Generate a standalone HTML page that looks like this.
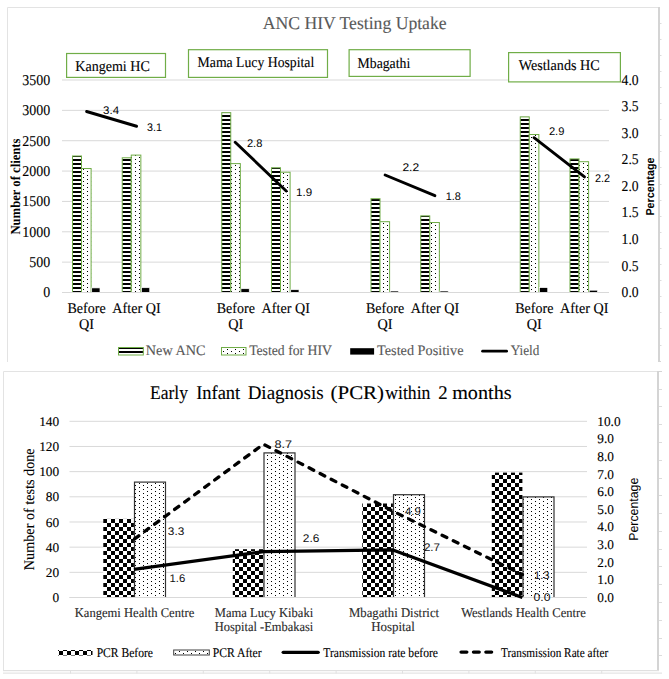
<!DOCTYPE html>
<html><head><meta charset="utf-8"><style>
html,body{margin:0;padding:0;background:#fff;}
body{width:669px;height:679px;overflow:hidden;}
svg{display:block;text-rendering:geometricPrecision;}
text{font-family:"Liberation Serif",serif;}
</style></head><body>
<svg width="669" height="679" viewBox="0 0 669 679">
<rect width="669" height="679" fill="#fff"/>
<defs>
<pattern id="stripes" patternUnits="userSpaceOnUse" x="0" y="3" width="8" height="4">
 <rect x="0" y="0" width="8" height="2" fill="#000"/><rect x="0" y="2" width="8" height="2" fill="#fff"/></pattern>
<pattern id="dots1" patternUnits="userSpaceOnUse" x="3" y="1" width="8" height="4">
 <rect width="8" height="4" fill="#fff"/><rect x="0" y="0" width="1" height="1" fill="#000"/><rect x="4" y="2" width="1" height="1" fill="#000"/></pattern>
<pattern id="dots2" patternUnits="userSpaceOnUse" x="3" y="3" width="8" height="4">
 <rect width="8" height="4" fill="#fff"/><rect x="0" y="0" width="1" height="1" fill="#000"/><rect x="4" y="2" width="1" height="1" fill="#000"/></pattern>
<pattern id="checker" patternUnits="userSpaceOnUse" x="3" y="3" width="8" height="8">
 <rect width="8" height="8" fill="#fff"/><rect x="0" y="0" width="4" height="4" fill="#000"/><rect x="4" y="4" width="4" height="4" fill="#000"/></pattern>
</defs>
<path d="M7.5 362V7.5H658" stroke="#e3e3e3" stroke-width="1" fill="none"/>
<rect x="658" y="7" width="2" height="355" fill="#d4d4d4"/>
<rect x="660" y="23" width="1.5" height="1" fill="#dcdcdc"/>
<rect x="660" y="39" width="1.5" height="1" fill="#dcdcdc"/>
<rect x="660" y="55" width="1.5" height="1" fill="#dcdcdc"/>
<rect x="660" y="71" width="1.5" height="1" fill="#dcdcdc"/>
<rect x="660" y="87" width="1.5" height="1" fill="#dcdcdc"/>
<rect x="660" y="103" width="1.5" height="1" fill="#dcdcdc"/>
<rect x="660" y="119" width="1.5" height="1" fill="#dcdcdc"/>
<rect x="660" y="135" width="1.5" height="1" fill="#dcdcdc"/>
<rect x="660" y="151" width="1.5" height="1" fill="#dcdcdc"/>
<rect x="660" y="167" width="1.5" height="1" fill="#dcdcdc"/>
<rect x="660" y="184" width="1.5" height="1" fill="#dcdcdc"/>
<rect x="660" y="200" width="1.5" height="1" fill="#dcdcdc"/>
<rect x="660" y="216" width="1.5" height="1" fill="#dcdcdc"/>
<rect x="660" y="232" width="1.5" height="1" fill="#dcdcdc"/>
<rect x="660" y="248" width="1.5" height="1" fill="#dcdcdc"/>
<rect x="660" y="264" width="1.5" height="1" fill="#dcdcdc"/>
<rect x="660" y="280" width="1.5" height="1" fill="#dcdcdc"/>
<rect x="660" y="296" width="1.5" height="1" fill="#dcdcdc"/>
<rect x="660" y="312" width="1.5" height="1" fill="#dcdcdc"/>
<rect x="660" y="328" width="1.5" height="1" fill="#dcdcdc"/>
<rect x="660" y="345" width="1.5" height="1" fill="#dcdcdc"/>
<rect x="658" y="361" width="3" height="1" fill="#d4d4d4"/>
<text x="262.82" y="28.70" style="font-family:&quot;Liberation Serif&quot;,serif;font-size:18.1px;font-weight:normal" fill="#595959" stroke="#595959" stroke-width="0.12" textLength="183.79" lengthAdjust="spacingAndGlyphs">ANC HIV Testing Uptake</text>
<line x1="62" x2="609" y1="292.50" y2="292.50" stroke="#d9d9d9" stroke-width="1"/>
<line x1="62" x2="609" y1="262.14" y2="262.14" stroke="#d9d9d9" stroke-width="1"/>
<line x1="62" x2="609" y1="231.79" y2="231.79" stroke="#d9d9d9" stroke-width="1"/>
<line x1="62" x2="609" y1="201.43" y2="201.43" stroke="#d9d9d9" stroke-width="1"/>
<line x1="62" x2="609" y1="171.07" y2="171.07" stroke="#d9d9d9" stroke-width="1"/>
<line x1="62" x2="609" y1="140.71" y2="140.71" stroke="#d9d9d9" stroke-width="1"/>
<line x1="62" x2="609" y1="110.36" y2="110.36" stroke="#d9d9d9" stroke-width="1"/>
<line x1="62" x2="609" y1="80.00" y2="80.00" stroke="#d9d9d9" stroke-width="1"/>
<clipPath id="c1"><rect x="0" y="0" width="669" height="292"/></clipPath>
<g clip-path="url(#c1)">
<rect x="72.50" y="156.00" width="9" height="139.00" fill="url(#stripes)" stroke="#70ad47" stroke-width="1"/>
<rect x="81.50" y="168.50" width="9.6" height="126.50" fill="url(#dots1)" stroke="#70ad47" stroke-width="1"/>
<rect x="91.70" y="287.90" width="8.3" height="6.60" fill="#000" stroke="#fff" stroke-width="0.7"/>
<rect x="122.25" y="157.80" width="9" height="137.20" fill="url(#stripes)" stroke="#70ad47" stroke-width="1"/>
<rect x="131.25" y="155.10" width="9.6" height="139.90" fill="url(#dots1)" stroke="#70ad47" stroke-width="1"/>
<rect x="141.45" y="287.70" width="8.3" height="6.80" fill="#000" stroke="#fff" stroke-width="0.7"/>
<rect x="221.75" y="112.70" width="9" height="182.30" fill="url(#stripes)" stroke="#70ad47" stroke-width="1"/>
<rect x="230.75" y="163.60" width="9.6" height="131.40" fill="url(#dots1)" stroke="#70ad47" stroke-width="1"/>
<rect x="240.95" y="288.70" width="8.3" height="5.80" fill="#000" stroke="#fff" stroke-width="0.7"/>
<rect x="271.50" y="167.80" width="9" height="127.20" fill="url(#stripes)" stroke="#70ad47" stroke-width="1"/>
<rect x="280.50" y="172.20" width="9.6" height="122.80" fill="url(#dots1)" stroke="#70ad47" stroke-width="1"/>
<rect x="290.70" y="289.70" width="8.3" height="4.80" fill="#000" stroke="#fff" stroke-width="0.7"/>
<rect x="371.00" y="198.70" width="9" height="96.30" fill="url(#stripes)" stroke="#70ad47" stroke-width="1"/>
<rect x="380.00" y="221.70" width="9.6" height="73.30" fill="url(#dots1)" stroke="#70ad47" stroke-width="1"/>
<rect x="390.20" y="291.00" width="8.3" height="3.50" fill="#000" stroke="#fff" stroke-width="0.7"/>
<rect x="420.75" y="215.90" width="9" height="79.10" fill="url(#stripes)" stroke="#70ad47" stroke-width="1"/>
<rect x="429.75" y="222.50" width="9.6" height="72.50" fill="url(#dots1)" stroke="#70ad47" stroke-width="1"/>
<rect x="439.95" y="291.00" width="8.3" height="3.50" fill="#000" stroke="#fff" stroke-width="0.7"/>
<rect x="520.25" y="116.90" width="9" height="178.10" fill="url(#stripes)" stroke="#70ad47" stroke-width="1"/>
<rect x="529.25" y="134.50" width="9.6" height="160.50" fill="url(#dots1)" stroke="#70ad47" stroke-width="1"/>
<rect x="539.45" y="287.60" width="8.3" height="6.90" fill="#000" stroke="#fff" stroke-width="0.7"/>
<rect x="570.00" y="158.90" width="9" height="136.10" fill="url(#stripes)" stroke="#70ad47" stroke-width="1"/>
<rect x="579.00" y="161.70" width="9.6" height="133.30" fill="url(#dots1)" stroke="#70ad47" stroke-width="1"/>
<rect x="589.20" y="290.20" width="8.3" height="4.30" fill="#000" stroke="#fff" stroke-width="0.7"/>
</g>
<line x1="62" x2="609" y1="292.50" y2="292.50" stroke="#d9d9d9" stroke-width="1"/>
<line x1="86.6" y1="111.5" x2="136.6" y2="126.25" stroke="#000" stroke-width="2.9" stroke-linecap="round"/>
<line x1="235.2" y1="142.2" x2="286.2" y2="191.0" stroke="#000" stroke-width="2.9" stroke-linecap="round"/>
<line x1="385.1" y1="175.0" x2="434.9" y2="195.7" stroke="#000" stroke-width="2.9" stroke-linecap="round"/>
<line x1="534.0" y1="137.7" x2="584.5" y2="176.85" stroke="#000" stroke-width="2.9" stroke-linecap="round"/>
<text x="103.14" y="113.90" style="font-family:&quot;Liberation Sans&quot;,sans;font-size:11.1px;font-weight:normal" fill="#000" textLength="16.01" lengthAdjust="spacingAndGlyphs">3.4</text>
<text x="146.97" y="130.90" style="font-family:&quot;Liberation Sans&quot;,sans;font-size:11.1px;font-weight:normal" fill="#000" textLength="14.86" lengthAdjust="spacingAndGlyphs">3.1</text>
<text x="246.95" y="147.00" style="font-family:&quot;Liberation Sans&quot;,sans;font-size:11.1px;font-weight:normal" fill="#000" textLength="15.40" lengthAdjust="spacingAndGlyphs">2.8</text>
<text x="296.03" y="195.60" style="font-family:&quot;Liberation Sans&quot;,sans;font-size:11.1px;font-weight:normal" fill="#000" textLength="16.09" lengthAdjust="spacingAndGlyphs">1.9</text>
<text x="402.40" y="171.00" style="font-family:&quot;Liberation Sans&quot;,sans;font-size:11.1px;font-weight:normal" fill="#000" textLength="16.70" lengthAdjust="spacingAndGlyphs">2.2</text>
<text x="445.78" y="200.00" style="font-family:&quot;Liberation Sans&quot;,sans;font-size:11.1px;font-weight:normal" fill="#000" textLength="15.16" lengthAdjust="spacingAndGlyphs">1.8</text>
<text x="548.94" y="135.00" style="font-family:&quot;Liberation Sans&quot;,sans;font-size:11.1px;font-weight:normal" fill="#000" textLength="15.46" lengthAdjust="spacingAndGlyphs">2.9</text>
<text x="594.96" y="181.70" style="font-family:&quot;Liberation Sans&quot;,sans;font-size:11.1px;font-weight:normal" fill="#000" textLength="15.09" lengthAdjust="spacingAndGlyphs">2.2</text>
<rect x="66.60" y="53.50" width="98.90" height="23.90" fill="#fff" stroke="#70ad47" stroke-width="1.2"/>
<text x="75.28" y="70.80" style="font-family:&quot;Liberation Serif&quot;,serif;font-size:14.8px;font-weight:normal" fill="#000" stroke="#000" stroke-width="0.12" textLength="74.49" lengthAdjust="spacingAndGlyphs">Kangemi HC</text>
<rect x="188.50" y="49.70" width="139.00" height="27.70" fill="#fff" stroke="#70ad47" stroke-width="1.2"/>
<text x="197.59" y="66.70" style="font-family:&quot;Liberation Serif&quot;,serif;font-size:14.8px;font-weight:normal" fill="#000" stroke="#000" stroke-width="0.12" textLength="116.66" lengthAdjust="spacingAndGlyphs">Mama Lucy Hospital</text>
<rect x="349.10" y="49.70" width="121.00" height="26.70" fill="#fff" stroke="#70ad47" stroke-width="1.2"/>
<text x="357.59" y="67.80" style="font-family:&quot;Liberation Serif&quot;,serif;font-size:14.8px;font-weight:normal" fill="#000" stroke="#000" stroke-width="0.12" textLength="52.65" lengthAdjust="spacingAndGlyphs">Mbagathi</text>
<rect x="508.60" y="52.60" width="111.80" height="29.30" fill="#fff" stroke="#70ad47" stroke-width="1.2"/>
<text x="518.70" y="69.80" style="font-family:&quot;Liberation Serif&quot;,serif;font-size:14.8px;font-weight:normal" fill="#000" stroke="#000" stroke-width="0.12" textLength="80.97" lengthAdjust="spacingAndGlyphs">Westlands HC</text>
<text x="43.17" y="297.40" style="font-family:&quot;Liberation Serif&quot;,serif;font-size:15px;font-weight:normal" fill="#000" stroke="#000" stroke-width="0.12" textLength="6.99" lengthAdjust="spacingAndGlyphs">0</text>
<text x="29.19" y="267.04" style="font-family:&quot;Liberation Serif&quot;,serif;font-size:15px;font-weight:normal" fill="#000" stroke="#000" stroke-width="0.12" textLength="20.97" lengthAdjust="spacingAndGlyphs">500</text>
<text x="22.20" y="236.69" style="font-family:&quot;Liberation Serif&quot;,serif;font-size:15px;font-weight:normal" fill="#000" stroke="#000" stroke-width="0.12" textLength="27.96" lengthAdjust="spacingAndGlyphs">1000</text>
<text x="22.20" y="206.33" style="font-family:&quot;Liberation Serif&quot;,serif;font-size:15px;font-weight:normal" fill="#000" stroke="#000" stroke-width="0.12" textLength="27.96" lengthAdjust="spacingAndGlyphs">1500</text>
<text x="22.20" y="175.97" style="font-family:&quot;Liberation Serif&quot;,serif;font-size:15px;font-weight:normal" fill="#000" stroke="#000" stroke-width="0.12" textLength="27.96" lengthAdjust="spacingAndGlyphs">2000</text>
<text x="22.20" y="145.61" style="font-family:&quot;Liberation Serif&quot;,serif;font-size:15px;font-weight:normal" fill="#000" stroke="#000" stroke-width="0.12" textLength="27.96" lengthAdjust="spacingAndGlyphs">2500</text>
<text x="22.20" y="115.26" style="font-family:&quot;Liberation Serif&quot;,serif;font-size:15px;font-weight:normal" fill="#000" stroke="#000" stroke-width="0.12" textLength="27.96" lengthAdjust="spacingAndGlyphs">3000</text>
<text x="22.20" y="84.90" style="font-family:&quot;Liberation Serif&quot;,serif;font-size:15px;font-weight:normal" fill="#000" stroke="#000" stroke-width="0.12" textLength="27.96" lengthAdjust="spacingAndGlyphs">3500</text>
<text x="621.59" y="297.10" style="font-family:&quot;Liberation Serif&quot;,serif;font-size:15px;font-weight:normal" fill="#000" stroke="#000" stroke-width="0.12" textLength="17.06" lengthAdjust="spacingAndGlyphs">0.0</text>
<text x="621.59" y="270.54" style="font-family:&quot;Liberation Serif&quot;,serif;font-size:15px;font-weight:normal" fill="#000" stroke="#000" stroke-width="0.12" textLength="17.06" lengthAdjust="spacingAndGlyphs">0.5</text>
<text x="621.59" y="243.97" style="font-family:&quot;Liberation Serif&quot;,serif;font-size:15px;font-weight:normal" fill="#000" stroke="#000" stroke-width="0.12" textLength="17.06" lengthAdjust="spacingAndGlyphs">1.0</text>
<text x="621.59" y="217.41" style="font-family:&quot;Liberation Serif&quot;,serif;font-size:15px;font-weight:normal" fill="#000" stroke="#000" stroke-width="0.12" textLength="17.06" lengthAdjust="spacingAndGlyphs">1.5</text>
<text x="621.59" y="190.85" style="font-family:&quot;Liberation Serif&quot;,serif;font-size:15px;font-weight:normal" fill="#000" stroke="#000" stroke-width="0.12" textLength="17.06" lengthAdjust="spacingAndGlyphs">2.0</text>
<text x="621.59" y="164.29" style="font-family:&quot;Liberation Serif&quot;,serif;font-size:15px;font-weight:normal" fill="#000" stroke="#000" stroke-width="0.12" textLength="17.06" lengthAdjust="spacingAndGlyphs">2.5</text>
<text x="621.59" y="137.72" style="font-family:&quot;Liberation Serif&quot;,serif;font-size:15px;font-weight:normal" fill="#000" stroke="#000" stroke-width="0.12" textLength="17.06" lengthAdjust="spacingAndGlyphs">3.0</text>
<text x="621.59" y="111.16" style="font-family:&quot;Liberation Serif&quot;,serif;font-size:15px;font-weight:normal" fill="#000" stroke="#000" stroke-width="0.12" textLength="17.06" lengthAdjust="spacingAndGlyphs">3.5</text>
<text x="621.59" y="84.60" style="font-family:&quot;Liberation Serif&quot;,serif;font-size:15px;font-weight:normal" fill="#000" stroke="#000" stroke-width="0.12" textLength="17.06" lengthAdjust="spacingAndGlyphs">4.0</text>
<text x="67.53" y="312.80" style="font-family:&quot;Liberation Serif&quot;,serif;font-size:14.8px;font-weight:normal" fill="#000" stroke="#000" stroke-width="0.12" textLength="38.12" lengthAdjust="spacingAndGlyphs">Before</text>
<text x="78.98" y="328.80" style="font-family:&quot;Liberation Serif&quot;,serif;font-size:14.8px;font-weight:normal" fill="#000" stroke="#000" stroke-width="0.12" textLength="15.07" lengthAdjust="spacingAndGlyphs">QI</text>
<text x="112.36" y="312.80" style="font-family:&quot;Liberation Serif&quot;,serif;font-size:14.8px;font-weight:normal" fill="#000" stroke="#000" stroke-width="0.12" textLength="48.24" lengthAdjust="spacingAndGlyphs">After QI</text>
<text x="216.78" y="312.80" style="font-family:&quot;Liberation Serif&quot;,serif;font-size:14.8px;font-weight:normal" fill="#000" stroke="#000" stroke-width="0.12" textLength="38.12" lengthAdjust="spacingAndGlyphs">Before</text>
<text x="228.23" y="328.80" style="font-family:&quot;Liberation Serif&quot;,serif;font-size:14.8px;font-weight:normal" fill="#000" stroke="#000" stroke-width="0.12" textLength="15.07" lengthAdjust="spacingAndGlyphs">QI</text>
<text x="261.61" y="312.80" style="font-family:&quot;Liberation Serif&quot;,serif;font-size:14.8px;font-weight:normal" fill="#000" stroke="#000" stroke-width="0.12" textLength="48.24" lengthAdjust="spacingAndGlyphs">After QI</text>
<text x="366.03" y="312.80" style="font-family:&quot;Liberation Serif&quot;,serif;font-size:14.8px;font-weight:normal" fill="#000" stroke="#000" stroke-width="0.12" textLength="38.12" lengthAdjust="spacingAndGlyphs">Before</text>
<text x="377.48" y="328.80" style="font-family:&quot;Liberation Serif&quot;,serif;font-size:14.8px;font-weight:normal" fill="#000" stroke="#000" stroke-width="0.12" textLength="15.07" lengthAdjust="spacingAndGlyphs">QI</text>
<text x="410.86" y="312.80" style="font-family:&quot;Liberation Serif&quot;,serif;font-size:14.8px;font-weight:normal" fill="#000" stroke="#000" stroke-width="0.12" textLength="48.24" lengthAdjust="spacingAndGlyphs">After QI</text>
<text x="515.28" y="312.80" style="font-family:&quot;Liberation Serif&quot;,serif;font-size:14.8px;font-weight:normal" fill="#000" stroke="#000" stroke-width="0.12" textLength="38.12" lengthAdjust="spacingAndGlyphs">Before</text>
<text x="526.73" y="328.80" style="font-family:&quot;Liberation Serif&quot;,serif;font-size:14.8px;font-weight:normal" fill="#000" stroke="#000" stroke-width="0.12" textLength="15.07" lengthAdjust="spacingAndGlyphs">QI</text>
<text x="560.11" y="312.80" style="font-family:&quot;Liberation Serif&quot;,serif;font-size:14.8px;font-weight:normal" fill="#000" stroke="#000" stroke-width="0.12" textLength="48.24" lengthAdjust="spacingAndGlyphs">After QI</text>
<text transform="rotate(-90)" x="-234.55" y="19.90" style="font-family:&quot;Liberation Serif&quot;,serif;font-size:13.7px;font-weight:bold" fill="#000" textLength="96.03" lengthAdjust="spacingAndGlyphs">Number of clients</text>
<text transform="rotate(-90)" x="-215.60" y="654.10" style="font-family:&quot;Liberation Sans&quot;,sans;font-size:11.5px;font-weight:bold" fill="#000" textLength="58.10" lengthAdjust="spacingAndGlyphs">Percentage</text>
<rect x="118.5" y="347.5" width="24.8" height="7.5" fill="url(#stripes)" stroke="#70ad47" stroke-width="1"/>
<text x="145.87" y="355.45" style="font-family:&quot;Liberation Serif&quot;,serif;font-size:14.4px;font-weight:normal" fill="#595959" stroke="#595959" stroke-width="0.12" textLength="59.57" lengthAdjust="spacingAndGlyphs">New ANC</text>
<rect x="221.5" y="347.5" width="24.5" height="7.5" fill="url(#dots1)" stroke="#70ad47" stroke-width="1"/>
<text x="249.13" y="355.45" style="font-family:&quot;Liberation Serif&quot;,serif;font-size:14.4px;font-weight:normal" fill="#595959" stroke="#595959" stroke-width="0.12" textLength="82.77" lengthAdjust="spacingAndGlyphs">Tested for HIV</text>
<rect x="350.2" y="348.2" width="23.9" height="6.4" fill="#000"/>
<text x="377.12" y="355.45" style="font-family:&quot;Liberation Serif&quot;,serif;font-size:14.4px;font-weight:normal" fill="#595959" stroke="#595959" stroke-width="0.12" textLength="86.36" lengthAdjust="spacingAndGlyphs">Tested Positive</text>
<line x1="482.6" x2="506.6" y1="351.2" y2="351.2" stroke="#000" stroke-width="2.8" stroke-linecap="round"/>
<text x="510.67" y="355.45" style="font-family:&quot;Liberation Serif&quot;,serif;font-size:14.4px;font-weight:normal" fill="#595959" stroke="#595959" stroke-width="0.12" textLength="28.68" lengthAdjust="spacingAndGlyphs">Yield</text>
<path d="M3.5 670.5V371.5H657" stroke="#e3e3e3" stroke-width="1" fill="none"/>
<rect x="657" y="371" width="2" height="300" fill="#d4d4d4"/>
<rect x="3" y="670" width="656" height="1.2" fill="#e0e0e0"/>
<rect x="3" y="672.6" width="659" height="1" fill="#dedede"/>
<rect x="657" y="371" width="5" height="1" fill="#d4d4d4"/>
<rect x="70.0" y="670" width="1" height="3.5" fill="#e0e0e0"/>
<rect x="136.4" y="670" width="1" height="3.5" fill="#e0e0e0"/>
<rect x="202.8" y="670" width="1" height="3.5" fill="#e0e0e0"/>
<rect x="269.2" y="670" width="1" height="3.5" fill="#e0e0e0"/>
<rect x="335.6" y="670" width="1" height="3.5" fill="#e0e0e0"/>
<rect x="402.0" y="670" width="1" height="3.5" fill="#e0e0e0"/>
<rect x="468.4" y="670" width="1" height="3.5" fill="#e0e0e0"/>
<rect x="534.8" y="670" width="1" height="3.5" fill="#e0e0e0"/>
<rect x="601.2" y="670" width="1" height="3.5" fill="#e0e0e0"/>
<rect x="659" y="389" width="3" height="1" fill="#dcdcdc"/>
<rect x="659" y="406" width="3" height="1" fill="#dcdcdc"/>
<rect x="659" y="424" width="3" height="1" fill="#dcdcdc"/>
<rect x="659" y="442" width="3" height="1" fill="#dcdcdc"/>
<rect x="659" y="460" width="3" height="1" fill="#dcdcdc"/>
<rect x="659" y="478" width="3" height="1" fill="#dcdcdc"/>
<rect x="659" y="495" width="3" height="1" fill="#dcdcdc"/>
<rect x="659" y="513" width="3" height="1" fill="#dcdcdc"/>
<rect x="659" y="531" width="3" height="1" fill="#dcdcdc"/>
<rect x="659" y="549" width="3" height="1" fill="#dcdcdc"/>
<rect x="659" y="566" width="3" height="1" fill="#dcdcdc"/>
<rect x="659" y="584" width="3" height="1" fill="#dcdcdc"/>
<rect x="659" y="602" width="3" height="1" fill="#dcdcdc"/>
<rect x="659" y="620" width="3" height="1" fill="#dcdcdc"/>
<rect x="659" y="638" width="3" height="1" fill="#dcdcdc"/>
<rect x="659" y="655" width="3" height="1" fill="#dcdcdc"/>
<text x="149.97" y="398.70" style="font-family:&quot;Liberation Serif&quot;,serif;font-size:19.4px;font-weight:normal" fill="#000" stroke="#000" stroke-width="0.12" textLength="37.92" lengthAdjust="spacingAndGlyphs">Early</text>
<text x="196.15" y="398.70" style="font-family:&quot;Liberation Serif&quot;,serif;font-size:19.4px;font-weight:normal" fill="#000" stroke="#000" stroke-width="0.12" textLength="44.09" lengthAdjust="spacingAndGlyphs">Infant</text>
<text x="247.63" y="398.70" style="font-family:&quot;Liberation Serif&quot;,serif;font-size:19.4px;font-weight:normal" fill="#000" stroke="#000" stroke-width="0.12" textLength="76.03" lengthAdjust="spacingAndGlyphs">Diagnosis</text>
<text x="330.56" y="398.70" style="font-family:&quot;Liberation Serif&quot;,serif;font-size:19.4px;font-weight:normal" fill="#000" stroke="#000" stroke-width="0.12" textLength="53.51" lengthAdjust="spacingAndGlyphs">(PCR)</text>
<text x="385.30" y="398.70" style="font-family:&quot;Liberation Serif&quot;,serif;font-size:19.4px;font-weight:normal" fill="#000" stroke="#000" stroke-width="0.12" textLength="45.08" lengthAdjust="spacingAndGlyphs">within</text>
<text x="438.26" y="398.70" style="font-family:&quot;Liberation Serif&quot;,serif;font-size:19.4px;font-weight:normal" fill="#000" stroke="#000" stroke-width="0.12" textLength="9.38" lengthAdjust="spacingAndGlyphs">2</text>
<text x="452.20" y="398.70" style="font-family:&quot;Liberation Serif&quot;,serif;font-size:19.4px;font-weight:normal" fill="#000" stroke="#000" stroke-width="0.12" textLength="59.40" lengthAdjust="spacingAndGlyphs">months</text>
<line x1="69.5" x2="587" y1="597.50" y2="597.50" stroke="#d9d9d9" stroke-width="1"/>
<line x1="69.5" x2="587" y1="572.33" y2="572.33" stroke="#d9d9d9" stroke-width="1"/>
<line x1="69.5" x2="587" y1="547.16" y2="547.16" stroke="#d9d9d9" stroke-width="1"/>
<line x1="69.5" x2="587" y1="521.99" y2="521.99" stroke="#d9d9d9" stroke-width="1"/>
<line x1="69.5" x2="587" y1="496.81" y2="496.81" stroke="#d9d9d9" stroke-width="1"/>
<line x1="69.5" x2="587" y1="471.64" y2="471.64" stroke="#d9d9d9" stroke-width="1"/>
<line x1="69.5" x2="587" y1="446.47" y2="446.47" stroke="#d9d9d9" stroke-width="1"/>
<line x1="69.5" x2="587" y1="421.30" y2="421.30" stroke="#d9d9d9" stroke-width="1"/>
<clipPath id="c2"><rect x="0" y="0" width="669" height="597"/></clipPath>
<g clip-path="url(#c2)">
<rect x="103.30" y="518.90" width="30.6" height="80.60" fill="url(#checker)"/>
<rect x="134.50" y="482.10" width="31.0" height="117.80" fill="url(#dots2)" stroke="#333" stroke-width="1.2"/>
<rect x="232.80" y="549.20" width="30.6" height="50.30" fill="url(#checker)"/>
<rect x="264.00" y="452.90" width="31.0" height="147.00" fill="url(#dots2)" stroke="#333" stroke-width="1.2"/>
<rect x="362.30" y="503.50" width="30.6" height="96.00" fill="url(#checker)"/>
<rect x="393.50" y="494.70" width="31.0" height="105.20" fill="url(#dots2)" stroke="#333" stroke-width="1.2"/>
<rect x="491.80" y="472.60" width="30.6" height="126.90" fill="url(#checker)"/>
<rect x="523.00" y="496.90" width="31.0" height="103.00" fill="url(#dots2)" stroke="#333" stroke-width="1.2"/>
</g>
<line x1="69.5" x2="587" y1="597.50" y2="597.50" stroke="#d9d9d9" stroke-width="1"/>
<polyline fill="none" stroke="#000" stroke-width="3.3" stroke-linejoin="round" points="133.90,569.31 263.40,551.69 392.90,549.93 522.40,597.50"/>
<polyline fill="none" stroke="#000" stroke-width="3.3" stroke-dasharray="5.2 7.23" stroke-dashoffset="-0.8" stroke-linecap="round" stroke-linejoin="round" points="133.90,539.35 263.40,444.21 392.90,511.16 522.40,574.59"/>
<text x="167.83" y="534.90" style="font-family:&quot;Liberation Sans&quot;,sans;font-size:11.1px;font-weight:normal" fill="#111" textLength="16.40" lengthAdjust="spacingAndGlyphs">3.3</text>
<text x="169.45" y="581.80" style="font-family:&quot;Liberation Sans&quot;,sans;font-size:11.1px;font-weight:normal" fill="#111" textLength="15.76" lengthAdjust="spacingAndGlyphs">1.6</text>
<text x="274.53" y="448.00" style="font-family:&quot;Liberation Sans&quot;,sans;font-size:11.1px;font-weight:normal" fill="#111" textLength="17.61" lengthAdjust="spacingAndGlyphs">8.7</text>
<text x="302.81" y="542.10" style="font-family:&quot;Liberation Sans&quot;,sans;font-size:11.1px;font-weight:normal" fill="#111" textLength="16.53" lengthAdjust="spacingAndGlyphs">2.6</text>
<text x="404.91" y="515.20" style="font-family:&quot;Liberation Sans&quot;,sans;font-size:11.1px;font-weight:normal" fill="#111" textLength="15.90" lengthAdjust="spacingAndGlyphs">4.9</text>
<text x="423.92" y="551.30" style="font-family:&quot;Liberation Sans&quot;,sans;font-size:11.1px;font-weight:normal" fill="#111" textLength="16.16" lengthAdjust="spacingAndGlyphs">2.7</text>
<text x="533.96" y="579.30" style="font-family:&quot;Liberation Sans&quot;,sans;font-size:11.1px;font-weight:normal" fill="#111" textLength="15.65" lengthAdjust="spacingAndGlyphs">1.3</text>
<text x="533.61" y="601.40" style="font-family:&quot;Liberation Sans&quot;,sans;font-size:11.1px;font-weight:normal" fill="#111" textLength="16.87" lengthAdjust="spacingAndGlyphs">0.0</text>
<text x="52.56" y="602.10" style="font-family:&quot;Liberation Serif&quot;,serif;font-size:13.3px;font-weight:normal" fill="#000" stroke="#000" stroke-width="0.12" textLength="6.68" lengthAdjust="spacingAndGlyphs">0</text>
<text x="45.88" y="576.93" style="font-family:&quot;Liberation Serif&quot;,serif;font-size:13.3px;font-weight:normal" fill="#000" stroke="#000" stroke-width="0.12" textLength="13.36" lengthAdjust="spacingAndGlyphs">20</text>
<text x="45.88" y="551.76" style="font-family:&quot;Liberation Serif&quot;,serif;font-size:13.3px;font-weight:normal" fill="#000" stroke="#000" stroke-width="0.12" textLength="13.36" lengthAdjust="spacingAndGlyphs">40</text>
<text x="45.88" y="526.59" style="font-family:&quot;Liberation Serif&quot;,serif;font-size:13.3px;font-weight:normal" fill="#000" stroke="#000" stroke-width="0.12" textLength="13.36" lengthAdjust="spacingAndGlyphs">60</text>
<text x="45.88" y="501.41" style="font-family:&quot;Liberation Serif&quot;,serif;font-size:13.3px;font-weight:normal" fill="#000" stroke="#000" stroke-width="0.12" textLength="13.36" lengthAdjust="spacingAndGlyphs">80</text>
<text x="39.20" y="476.24" style="font-family:&quot;Liberation Serif&quot;,serif;font-size:13.3px;font-weight:normal" fill="#000" stroke="#000" stroke-width="0.12" textLength="20.04" lengthAdjust="spacingAndGlyphs">100</text>
<text x="39.20" y="451.07" style="font-family:&quot;Liberation Serif&quot;,serif;font-size:13.3px;font-weight:normal" fill="#000" stroke="#000" stroke-width="0.12" textLength="20.04" lengthAdjust="spacingAndGlyphs">120</text>
<text x="39.20" y="425.90" style="font-family:&quot;Liberation Serif&quot;,serif;font-size:13.3px;font-weight:normal" fill="#000" stroke="#000" stroke-width="0.12" textLength="20.04" lengthAdjust="spacingAndGlyphs">140</text>
<text x="597.30" y="601.90" style="font-family:&quot;Liberation Serif&quot;,serif;font-size:13.3px;font-weight:normal" fill="#000" stroke="#000" stroke-width="0.12" textLength="16.63" lengthAdjust="spacingAndGlyphs">0.0</text>
<text x="597.30" y="584.28" style="font-family:&quot;Liberation Serif&quot;,serif;font-size:13.3px;font-weight:normal" fill="#000" stroke="#000" stroke-width="0.12" textLength="16.63" lengthAdjust="spacingAndGlyphs">1.0</text>
<text x="597.30" y="566.66" style="font-family:&quot;Liberation Serif&quot;,serif;font-size:13.3px;font-weight:normal" fill="#000" stroke="#000" stroke-width="0.12" textLength="16.63" lengthAdjust="spacingAndGlyphs">2.0</text>
<text x="597.30" y="549.04" style="font-family:&quot;Liberation Serif&quot;,serif;font-size:13.3px;font-weight:normal" fill="#000" stroke="#000" stroke-width="0.12" textLength="16.63" lengthAdjust="spacingAndGlyphs">3.0</text>
<text x="597.30" y="531.42" style="font-family:&quot;Liberation Serif&quot;,serif;font-size:13.3px;font-weight:normal" fill="#000" stroke="#000" stroke-width="0.12" textLength="16.63" lengthAdjust="spacingAndGlyphs">4.0</text>
<text x="597.30" y="513.80" style="font-family:&quot;Liberation Serif&quot;,serif;font-size:13.3px;font-weight:normal" fill="#000" stroke="#000" stroke-width="0.12" textLength="16.63" lengthAdjust="spacingAndGlyphs">5.0</text>
<text x="597.30" y="496.18" style="font-family:&quot;Liberation Serif&quot;,serif;font-size:13.3px;font-weight:normal" fill="#000" stroke="#000" stroke-width="0.12" textLength="16.63" lengthAdjust="spacingAndGlyphs">6.0</text>
<text x="597.30" y="478.56" style="font-family:&quot;Liberation Serif&quot;,serif;font-size:13.3px;font-weight:normal" fill="#000" stroke="#000" stroke-width="0.12" textLength="16.63" lengthAdjust="spacingAndGlyphs">7.0</text>
<text x="597.30" y="460.94" style="font-family:&quot;Liberation Serif&quot;,serif;font-size:13.3px;font-weight:normal" fill="#000" stroke="#000" stroke-width="0.12" textLength="16.63" lengthAdjust="spacingAndGlyphs">8.0</text>
<text x="597.30" y="443.32" style="font-family:&quot;Liberation Serif&quot;,serif;font-size:13.3px;font-weight:normal" fill="#000" stroke="#000" stroke-width="0.12" textLength="16.63" lengthAdjust="spacingAndGlyphs">9.0</text>
<text x="597.30" y="425.70" style="font-family:&quot;Liberation Serif&quot;,serif;font-size:13.3px;font-weight:normal" fill="#000" stroke="#000" stroke-width="0.12" textLength="23.28" lengthAdjust="spacingAndGlyphs">10.0</text>
<text transform="rotate(-90)" x="-570.13" y="33.60" style="font-family:&quot;Liberation Serif&quot;,serif;font-size:14.8px;font-weight:normal" fill="#000" stroke="#000" stroke-width="0.12" textLength="121.77" lengthAdjust="spacingAndGlyphs">Number of tests done</text>
<text transform="rotate(-90)" x="-540.79" y="638.00" style="font-family:&quot;Liberation Sans&quot;,sans;font-size:12.9px;font-weight:normal" fill="#000" textLength="63.14" lengthAdjust="spacingAndGlyphs">Percentage</text>
<text x="74.72" y="616.80" style="font-family:&quot;Liberation Serif&quot;,serif;font-size:13.2px;font-weight:normal" fill="#2a2a2a" stroke="#2a2a2a" stroke-width="0.12" textLength="119.57" lengthAdjust="spacingAndGlyphs">Kangemi Health Centre</text>
<text x="214.72" y="616.80" style="font-family:&quot;Liberation Serif&quot;,serif;font-size:13.2px;font-weight:normal" fill="#2a2a2a" stroke="#2a2a2a" stroke-width="0.12" textLength="98.48" lengthAdjust="spacingAndGlyphs">Mama Lucy Kibaki</text>
<text x="214.73" y="630.80" style="font-family:&quot;Liberation Serif&quot;,serif;font-size:13.2px;font-weight:normal" fill="#2a2a2a" stroke="#2a2a2a" stroke-width="0.12" textLength="98.52" lengthAdjust="spacingAndGlyphs">Hospital -Embakasi</text>
<text x="349.02" y="616.80" style="font-family:&quot;Liberation Serif&quot;,serif;font-size:13.2px;font-weight:normal" fill="#2a2a2a" stroke="#2a2a2a" stroke-width="0.12" textLength="90.07" lengthAdjust="spacingAndGlyphs">Mbagathi District</text>
<text x="371.21" y="630.80" style="font-family:&quot;Liberation Serif&quot;,serif;font-size:13.2px;font-weight:normal" fill="#2a2a2a" stroke="#2a2a2a" stroke-width="0.12" textLength="43.73" lengthAdjust="spacingAndGlyphs">Hospital</text>
<text x="461.20" y="616.80" style="font-family:&quot;Liberation Serif&quot;,serif;font-size:13.2px;font-weight:normal" fill="#2a2a2a" stroke="#2a2a2a" stroke-width="0.12" textLength="124.59" lengthAdjust="spacingAndGlyphs">Westlands Health Centre</text>
<rect x="58.1" y="650" width="34.4" height="5.5" fill="url(#checker)"/>
<text x="96.65" y="656.80" style="font-family:&quot;Liberation Serif&quot;,serif;font-size:13.2px;font-weight:normal" fill="#000" stroke="#000" stroke-width="0.12" textLength="56.37" lengthAdjust="spacingAndGlyphs">PCR Before</text>
<rect x="173.7" y="650" width="35.6" height="5" fill="url(#dots2)" stroke="#404040" stroke-width="1"/>
<text x="212.65" y="656.80" style="font-family:&quot;Liberation Serif&quot;,serif;font-size:13.2px;font-weight:normal" fill="#000" stroke="#000" stroke-width="0.12" textLength="48.97" lengthAdjust="spacingAndGlyphs">PCR After</text>
<line x1="283.2" x2="318.2" y1="652.3" y2="652.3" stroke="#000" stroke-width="3.3" stroke-linecap="round"/>
<text x="323.37" y="656.80" style="font-family:&quot;Liberation Serif&quot;,serif;font-size:13.2px;font-weight:normal" fill="#000" stroke="#000" stroke-width="0.12" textLength="114.54" lengthAdjust="spacingAndGlyphs">Transmission rate before</text>
<line x1="461.05" x2="492.1" y1="652.1" y2="652.1" stroke="#000" stroke-width="3.3" stroke-dasharray="5.8 6.6" stroke-linecap="round"/>
<text x="501.07" y="656.80" style="font-family:&quot;Liberation Serif&quot;,serif;font-size:13.2px;font-weight:normal" fill="#000" stroke="#000" stroke-width="0.12" textLength="107.11" lengthAdjust="spacingAndGlyphs">Transmission Rate after</text>
</svg>
</body></html>
